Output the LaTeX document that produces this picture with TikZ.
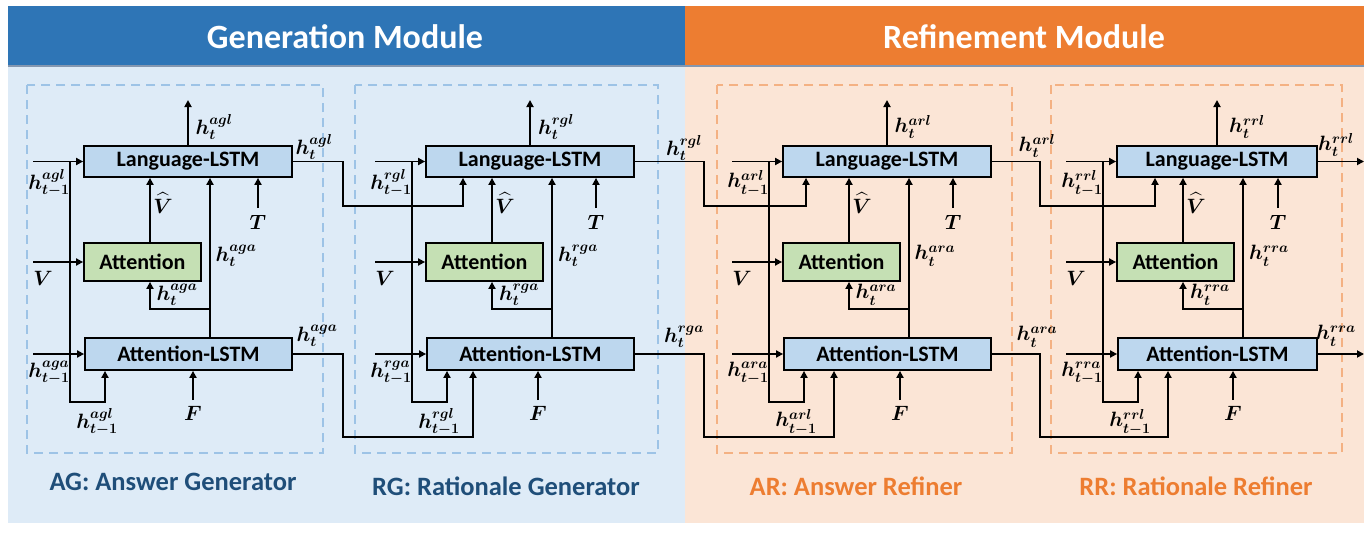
\documentclass[tikz,border=0pt]{standalone}
\usepackage{fontspec}
\usepackage{amsmath}
\usepackage{bm}
\newfontfamily\calfont{Carlito}
\usetikzlibrary{arrows.meta}
\definecolor{hdrblue}{HTML}{2E75B6}
\definecolor{hdrorange}{HTML}{ED7D31}
\definecolor{panblue}{HTML}{DEEBF7}
\definecolor{panorange}{HTML}{FBE5D6}
\definecolor{boxblue}{HTML}{BDD7EE}
\definecolor{boxgreen}{HTML}{C5E0B4}
\definecolor{dashblue}{HTML}{9DC3E6}
\definecolor{dashorange}{HTML}{F4B183}
\definecolor{txtblue}{HTML}{1F4E79}
\definecolor{sepgray}{HTML}{8497B0}
\tikzset{
  blk/.style={draw=black, line width=1.8pt, inner sep=0pt, font=\calfont\bfseries\fontsize{22}{24}\selectfont},
  lstmbox/.style={blk, fill=boxblue, minimum height=31pt},
  attbox/.style={blk, fill=boxgreen, minimum width=117pt, minimum height=38pt},
  arr/.style={line width=1.8pt, -{Triangle[length=7pt,width=7pt]}},
  lab/.style={inner sep=0pt, font=\boldmath\fontsize{20}{22}\selectfont},
  dashbox/.style={line width=1.8pt, dash pattern=on 9pt off 6pt},
  title/.style={font=\calfont\bfseries\fontsize{34}{38}\selectfont, text=white},
  sublab/.style={font=\calfont\bfseries\fontsize{26.5}{30}\selectfont},
}
\newcommand\drawmodule[6]{%
  \node[lstmbox, minimum width=#3pt] (#1lstm) at (#2+#3/2,161.5) {Language-LSTM};
  \node[attbox] (#1att) at (#2+58.5,262) {Attention};
  \node[lstmbox, minimum width=#3pt-1pt, minimum height=32pt] (#1alstm) at (#2+#3/2+0.5,354) {Attention-LSTM};
  \coordinate (#1inl) at (#2-51,161.5);
  \coordinate (#1fb) at (#2-14,161.5);
  \coordinate (#1fbe) at (#2+21,402);
  \coordinate (#1inv) at (#2-51,262);
  \coordinate (#1vh) at (#2+66,220);
  \coordinate (#1br) at (#2+126,309);
  \coordinate (#1inT) at (#2+#4,208);
  \coordinate (#1inF) at (#2+#5,400);
  \coordinate (#1out) at (#2+#3/2,100);
  \coordinate (#1ina) at (#2-51,354);
  \draw[arr] (#1inl) -- (#1lstm);
  \draw[arr] (#1fb) |- (#1fbe) -- (#1alstm.south -| #1fbe);
  \draw[arr] (#1inv) -- (#1att);
  \draw[arr] (#1att.north -| #1vh) -- (#1lstm.south -| #1vh);
  \draw[arr] (#1alstm.north -| #1br) -- (#1lstm.south -| #1br);
  \draw[arr] (#1br) -| (#1att.south -| #1vh);
  \draw[arr] (#1inT) -- (#1lstm.south -| #1inT);
  \draw[arr] (#1inF) -- (#1alstm.south -| #1inF);
  \draw[arr] (#1lstm.north) -- (#1out);
  \draw[arr] (#1ina) -- (#1alstm);
  \node[lab] (#1Lt) at (#2+130,127) {$h_t^{#6l}$};
  \node[lab] (#1Lp) at (#2-35,183) {$h_{t-1}^{#6l}$};
  \node[lab] (#1Vh) at (#2+79,203) {$\widehat{V}$};
  \node[lab] (#1Tl) at (#2+#4,222) {$T$};
  \node[lab] (#1At) at (#2+152,256) {$h_t^{#6a}$};
  \node[lab] (#1Vl) at (#2-41,278) {$V$};
  \node[lab] (#1As) at (#2+93,295) {$h_t^{#6a}$};
  \node[lab] (#1Ap) at (#2-35,373) {$h_{t-1}^{#6a}$};
  \node[lab] (#1Lb) at (#2+13,422) {$h_{t-1}^{#6l}$};
  \node[lab] (#1Fl) at (#2+#5,413) {$F$};
}
\begin{document}
\begin{tikzpicture}[x=1pt,y=-1pt]
\useasboundingbox (0,0) rectangle (1371,535);
% backgrounds
\fill[hdrblue] (8,6) rectangle (685,66);
\fill[hdrorange] (685,6) rectangle (1364,66);
\fill[panblue] (8,66) rectangle (685,523);
\fill[panorange] (685,66) rectangle (1364,523);
\draw[sepgray, line width=1.2pt] (8,66) -- (1364,66);
\node[title] (tgen) at (345,37) {Generation Module};
\node[title] (tref) at (1024,37) {Refinement Module};
% dashed containers
\draw[dashbox, dashblue] (27,85) rectangle (323,453);
\draw[dashbox, dashblue] (355,85) rectangle (658,453);
\draw[dashbox, dashorange] (717,85) rectangle (1012,453);
\draw[dashbox, dashorange] (1051,85) rectangle (1342,453);
\node[sublab, text=txtblue] (lag) at (173,482) {AG: Answer Generator};
\node[sublab, text=txtblue] (lrg) at (506,486) {RG: Rationale Generator};
\node[sublab, text=hdrorange] (lar) at (856,486) {AR: Answer Refiner};
\node[sublab, text=hdrorange] (lrr) at (1196,486) {RR: Rationale Refiner};
% modules
\drawmodule{ag}{84}{208}{174}{109}{ag}
\drawmodule{rg}{426}{208}{170}{112}{rg}
\drawmodule{ar}{783}{208}{170}{117}{ar}
\drawmodule{rr}{1117}{200}{161}{116}{rr}
% cross-module connectors
\coordinate (x1a) at (343,206); \coordinate (x1b) at (463,206);
\coordinate (x2a) at (343,437); \coordinate (x2b) at (473,437);
\draw[arr] (aglstm.east) -| (x1a) -- (x1b) -- (rglstm.south -| x1b);
\draw[arr] (agalstm.east) -| (x2a) -- (x2b) -- (rgalstm.south -| x2b);
\coordinate (x3a) at (704,206); \coordinate (x3b) at (806,206);
\coordinate (x4a) at (704,437); \coordinate (x4b) at (834,437);
\draw[arr] (rglstm.east) -| (x3a) -- (x3b) -- (arlstm.south -| x3b);
\draw[arr] (rgalstm.east) -| (x4a) -- (x4b) -- (aralstm.south -| x4b);
\coordinate (x5a) at (1040,206); \coordinate (x5b) at (1155,206);
\coordinate (x6a) at (1040,437); \coordinate (x6b) at (1168,437);
\draw[arr] (arlstm.east) -| (x5a) -- (x5b) -- (rrlstm.south -| x5b);
\draw[arr] (aralstm.east) -| (x6a) -- (x6b) -- (rralstm.south -| x6b);
\coordinate (rrol) at (1364,161.5);
\coordinate (rroa) at (1364,354);
\draw[arr] (rrlstm.east) -- (rrol);
\draw[arr] (rralstm.east) -- (rroa);
% cross labels
\node[lab] (cl1) at (314,147) {$h_t^{agl}$};
\node[lab] (cl2) at (317,336) {$h_t^{aga}$};
\node[lab] (cl3) at (684,148) {$h_t^{rgl}$};
\node[lab] (cl4) at (684,337) {$h_t^{rga}$};
\node[lab] (cl5) at (1037,146) {$h_t^{arl}$};
\node[lab] (cl6) at (1037,337) {$h_t^{ara}$};
\node[lab] (cl7) at (1336,145) {$h_t^{rrl}$};
\node[lab] (cl8) at (1336,336) {$h_t^{rra}$};
\end{tikzpicture}
\end{document}
